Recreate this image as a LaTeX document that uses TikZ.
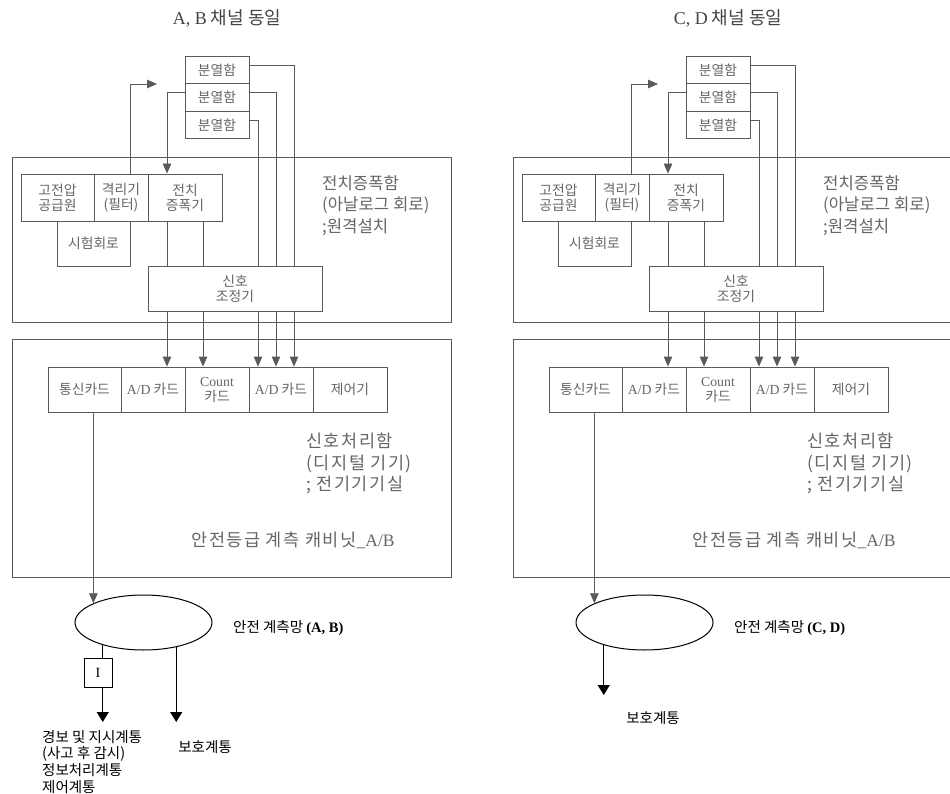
\documentclass[tikz,border=0pt]{standalone}
\usepackage{fontspec}
\setmainfont{Noto Sans CJK KR}
\newfontfamily\tm{Liberation Serif}
\newfontfamily\krsp[LetterSpace=9]{Noto Sans CJK KR}
\usetikzlibrary{arrows.meta,calc,shapes.geometric}
\definecolor{lg}{HTML}{5A5A5A}
\definecolor{tg}{HTML}{666666}
\definecolor{ttl}{HTML}{444444}
\tikzset{
  box/.style={draw=lg, line width=0.9pt, inner sep=0pt, align=center, text=tg,
    font=\fontsize{13.8}{15}\selectfont},
  frame/.style={draw=lg, line width=0.9pt, inner sep=0pt},
  wire/.style={draw=lg, line width=0.9pt},
  arr/.style={wire, -{Triangle[length=10pt,width=8.5pt]}},
  barr/.style={draw=black, line width=1.3pt, -{Triangle[length=10pt,width=12pt]}},
  bline/.style={draw=black, line width=1.3pt},
  biglbl/.style={text=tg, font=\fontsize{16.7}{21.5}\selectfont, align=left, inner sep=0pt},
  spclbl/.style={text=tg, font=\krsp\fontsize{17.5}{21.5}\selectfont, align=left, inner sep=0pt},
  ttlstyle/.style={text=ttl, font=\fontsize{18}{20}\selectfont, inner sep=0pt},
  netstyle/.style={draw=black, line width=1pt, ellipse, inner sep=0pt,
    minimum width=137pt, minimum height=55pt},
  nlbl/.style={text=black, font=\fontsize{14.5}{16.7}\selectfont, inner sep=0pt, align=left},
  ibox/.style={draw=black, line width=1pt, inner sep=0pt, minimum width=28pt,
    minimum height=29pt, font=\fontsize{14}{15}\selectfont}
}
% #1 prefix, #2 shift, #3 channel letters
\newcommand\chpanel[3]{%
\begin{scope}[xshift=#2]
  \node[ttlstyle] (#1title) at (227,18) {{\tm #3} 채널 동일};
  % splitter boxes
  \node[box, minimum width=64pt, minimum height=27.5pt] (#1s1) at (217,69.75) {분열함};
  \node[box, minimum width=64pt, minimum height=27.5pt] (#1s2) at (217,97.25) {분열함};
  \node[box, minimum width=64pt, minimum height=27.5pt] (#1s3) at (217,124.75) {분열함};
  % preamp enclosure
  \node[frame, minimum width=439pt, minimum height=165pt] (#1amp) at (231.5,239.5) {};
  \node[biglbl, anchor=north west] (#1ampl) at (322,175) {전치증폭함\\(아날로그 회로)\\;원격설치};
  \node[box, minimum width=73pt, minimum height=47pt] (#1hv) at (57.5,197.5) {고전압\\공급원};
  \node[box, minimum width=54pt, minimum height=47pt] (#1iso) at (121,197.5) {격리기\\(필터)};
  \node[box, minimum width=74pt, minimum height=47pt] (#1pre) at (185,197.5) {전치\\증폭기};
  \node[box, minimum width=73pt, minimum height=45pt] (#1test) at (93.5,243.5) {시험회로};
  \node[box, minimum width=174pt, minimum height=45pt] (#1sc) at (235,288.5) {신호\\조정기};
  % processing enclosure
  \node[frame, minimum width=439pt, minimum height=238pt] (#1proc) at (231.5,458) {};
  \node[box, minimum width=73pt, minimum height=45pt] (#1c1) at (84.5,389.5) {통신카드};
  \node[box, minimum width=64pt, minimum height=45pt] (#1c2) at (153,389.5) {{\tm A/D} 카드};
  \node[box, minimum width=64pt, minimum height=45pt] (#1c3) at (217,389.5) {{\tm Count}\\카드};
  \node[box, minimum width=64pt, minimum height=45pt] (#1c4) at (281,389.5) {{\tm A/D} 카드};
  \node[box, minimum width=74pt, minimum height=45pt] (#1c5) at (350,389.5) {제어기};
  \node[spclbl, anchor=north west] (#1procl) at (306,433) {신호처리함\\(디지털 기기)\\; 전기기기실};
  \node[spclbl] (#1cab) at (293,540) {안전등급 계측 캐비닛{\tm \_A/B}};
  % column coordinates
  \coordinate (#1xa) at (167,0);
  \coordinate (#1xb) at (203,0);
  \coordinate (#1xc) at (258,0);
  \coordinate (#1xd) at (276,0);
  \coordinate (#1xe) at (294,0);
  \coordinate (#1fb) at (157,84);
  % connectors in the upper part
  \draw[wire] ([yshift=4.5pt]#1s1.east) -| (#1sc.north -| #1xe);
  \draw[wire] ([yshift=4.5pt]#1s2.east) -| (#1sc.north -| #1xd);
  \draw[wire] ([yshift=4.5pt]#1s3.east) -| (#1sc.north -| #1xc);
  \draw[arr] ([yshift=4.5pt]#1s2.west) -| (#1pre.north -| #1xa);
  \draw[arr] (#1iso.north -| #1test.east) |- (#1fb);
  \draw[wire] (#1pre.south -| #1xa) -- (#1sc.north -| #1xa);
  \draw[wire] (#1pre.south -| #1xb) -- (#1sc.north -| #1xb);
  \draw[arr] (#1sc.south -| #1xa) -- (#1c2.north -| #1xa);
  \draw[arr] (#1sc.south -| #1xb) -- (#1c3.north -| #1xb);
  \draw[arr] (#1sc.south -| #1xc) -- (#1c4.north -| #1xc);
  \draw[arr] (#1sc.south -| #1xd) -- (#1c4.north -| #1xd);
  \draw[arr] (#1sc.south -| #1xe) -- (#1c4.north -| #1xe);
  % network
  \node[netstyle] (#1net) at (143.5,622.5) {};
  \node[nlbl, anchor=west] (#1netl) at (233,628) {안전 계측망 {\tm\bfseries (#3)}};
  \draw[arr] (#1c1.south -| #1net.159) -- (#1net.159);
\end{scope}}

\begin{document}
\begin{tikzpicture}[x=1pt,y=-1pt]
  \clip (0,0) rectangle (950,794);
  \fill[white] (0,0) rectangle (950,794);
  \chpanel{L}{0pt}{A, B}
  \chpanel{R}{501pt}{C, D}
  % left outputs
  \node[ibox] (LI) at (98,672.5) {\tm I};
  \coordinate (Le) at (0,722);
  \draw[bline] (Lnet.209) -- (Lnet.209 |- LI.north);
  \draw[barr] (LI.south -| Lnet.209) -- (Lnet.209 |- Le);
  \draw[barr] (Lnet.323) -- (Lnet.323 |- Le);
  \node[nlbl, anchor=north west] (Lout1) at (42,730) {경보 및 지시계통\\(사고 후 감시)\\정보처리계통\\제어계통};
  \node[nlbl] (Lout2) at (205,747) {보호계통};
  % right outputs
  \coordinate (Re) at (0,695);
  \draw[barr] (Rnet.209) -- (Rnet.209 |- Re);
  \node[nlbl] (Rout) at (653,718) {보호계통};
\end{tikzpicture}
\end{document}
